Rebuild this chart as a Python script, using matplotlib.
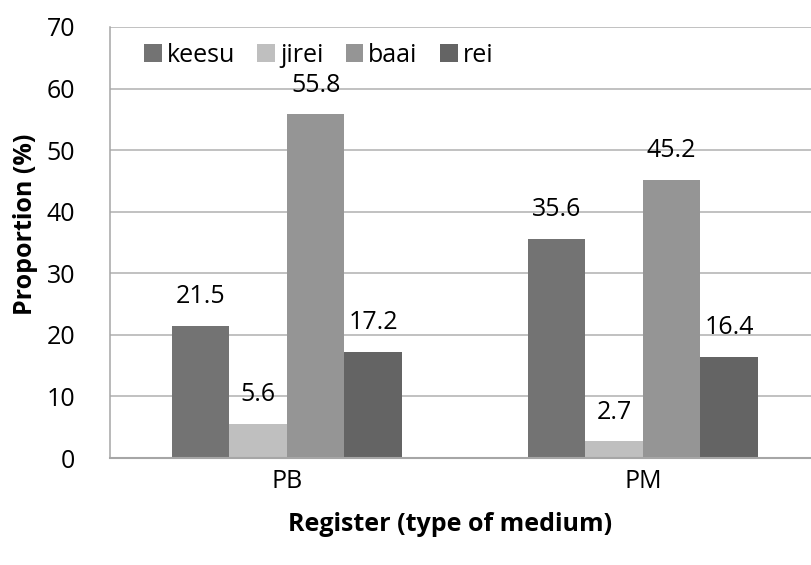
import numpy as np
import matplotlib
matplotlib.use('Agg')
import matplotlib.pyplot as plt

# data
registers = ['PB', 'PM']
series_names = ['keesu', 'jirei', 'baai', 'rei']
keesu = [21.5, 35.6]
jirei = [5.6, 2.7]
baai = [55.8, 45.2]
rei = [17.2, 16.4]
colors = ['#737373', '#bfbfbf', '#959595', '#646464']

plt.rcParams['font.family'] = ['Open Sans', 'DejaVu Sans']
fs = 18

fig = plt.figure(figsize=(8.11, 5.65), dpi=100)
ax = fig.add_axes([110 / 811, 107 / 565, 701 / 811, 431 / 565])

x = np.arange(len(registers))
w = 0.1615
values = [keesu, jirei, baai, rei]
for i, (name, vals) in enumerate(zip(series_names, values)):
    pos = x + (i - 1.5) * w
    ax.bar(pos, vals, width=w, color=colors[i], label=name, zorder=2)
    for px, v in zip(pos, vals):
        ax.annotate(f'{v:.1f}', (px, v), xytext=(0, 21), textcoords='offset points',
                    ha='center', va='center', fontsize=fs, color='black', zorder=3)

ax.set_xlim(-0.497, 1.472)
ax.set_ylim(0, 70)
ax.set_yticks(range(0, 71, 10))
ax.set_xticks(x)
ax.set_xticklabels(registers)
ax.tick_params(axis='both', length=0, labelsize=fs)
ax.tick_params(axis='y', pad=25)
ax.tick_params(axis='x', pad=8)

ax.yaxis.grid(True, color='#b0b0b0', linewidth=1.1, zorder=0)
ax.set_axisbelow(True)
for s in ['top', 'right']:
    ax.spines[s].set_visible(False)
ax.spines['left'].set_color('#a6a6a6')
ax.spines['left'].set_linewidth(1.1)
ax.spines['bottom'].set_color('#a6a6a6')
ax.spines['bottom'].set_linewidth(1.5)

ax.set_ylabel('Proportion (%)', fontsize=fs, fontweight='bold')
ax.yaxis.set_label_coords(-0.103, 0.543)
ax.set_xlabel('Register (type of medium)', fontsize=fs, fontweight='bold')
ax.xaxis.set_label_coords(0.485, -0.125)

fig.legend(loc='center left', bbox_to_anchor=(144 / 811, 1 - 55 / 565), ncol=4,
           frameon=False, fontsize=fs, handlelength=0.7, handleheight=0.7,
           handletextpad=0.2, columnspacing=0.9, borderaxespad=0, borderpad=0)

fig.savefig('out.png', dpi=100)
